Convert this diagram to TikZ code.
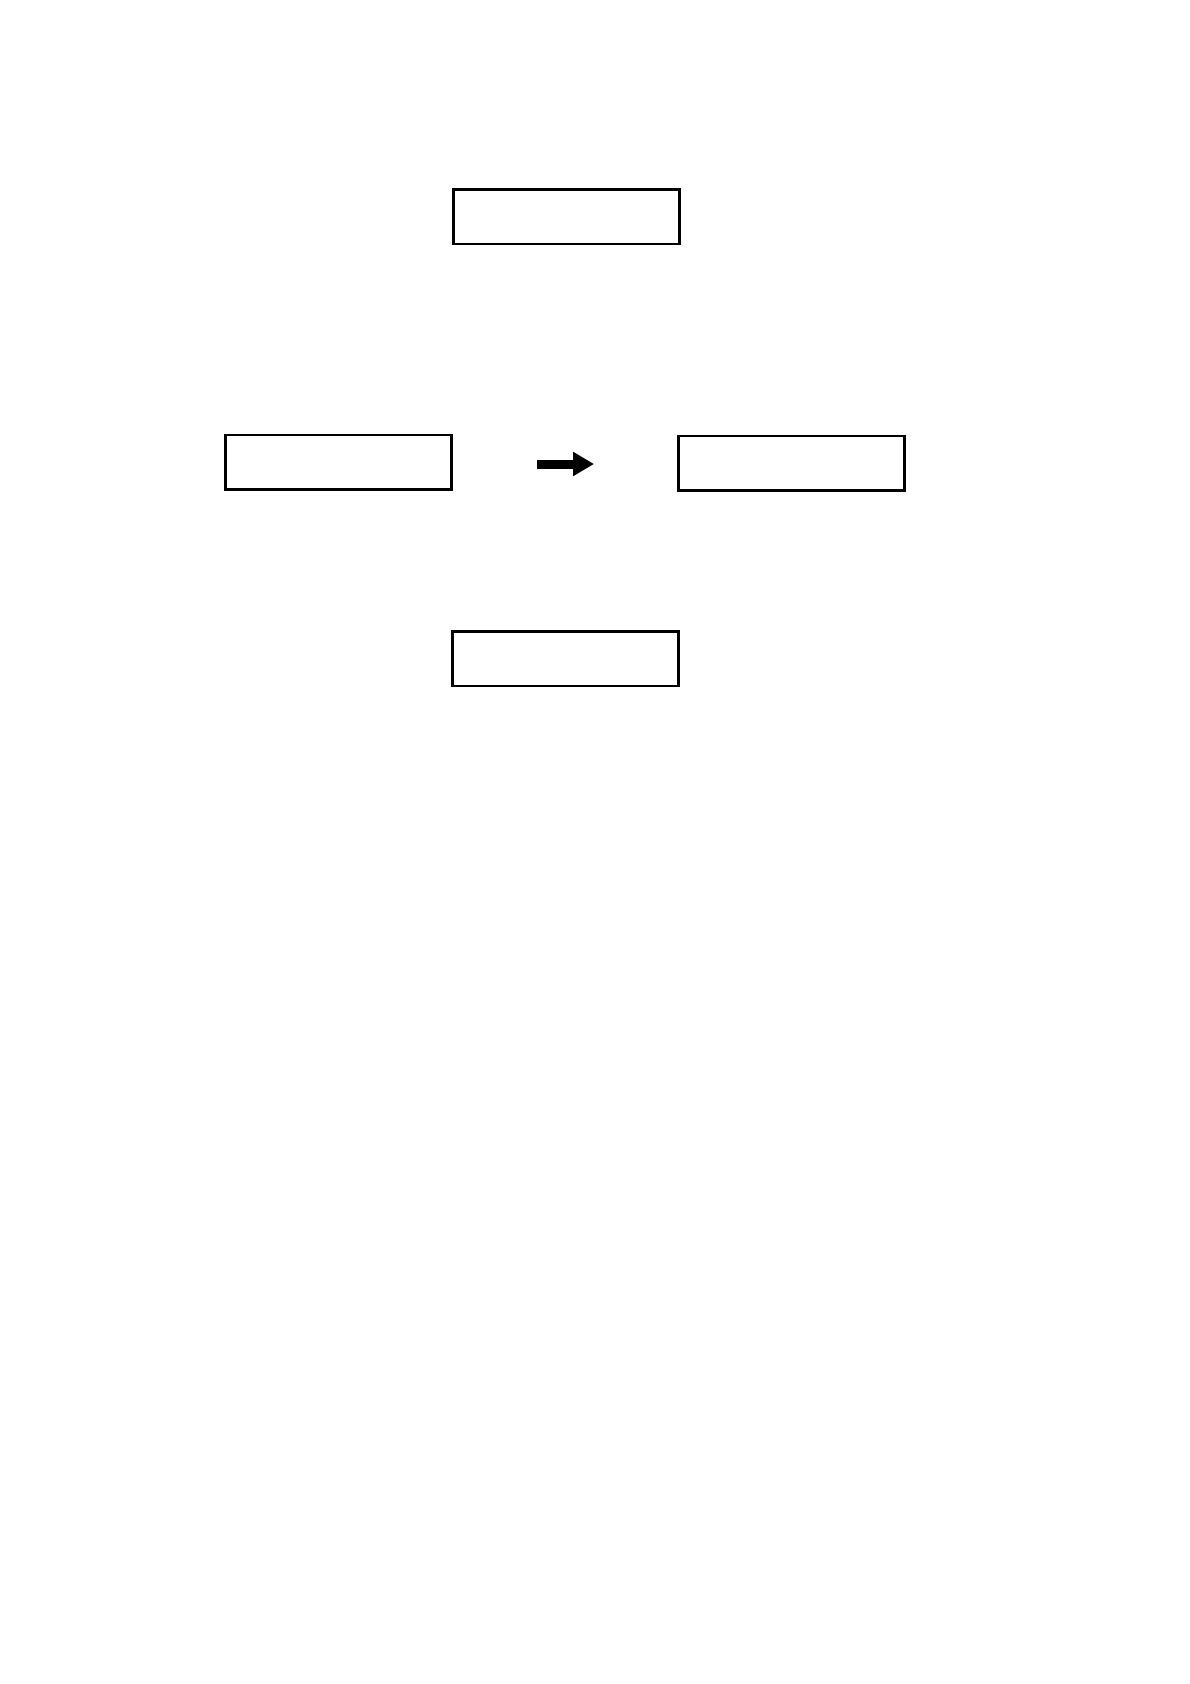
\documentclass[tikz,border=0pt]{standalone}
\usetikzlibrary{arrows.meta}
\tikzset{
  emptybox/.style={draw=black, line width=2.5pt, minimum width=226pt, minimum height=54.5pt, inner sep=0pt, fill=white},
  blockarrow/.style={line width=9pt, -{Triangle[length=21pt,width=23pt]}}
}
\begin{document}
\begin{tikzpicture}[x=1pt,y=-1pt]
\useasboundingbox[fill=white] (0,0) rectangle (1190,1684);
\node[emptybox] (top) at (566.5,216.5) {};
\node[emptybox] (left) at (338.5,462) {};
\node[emptybox] (right) at (791.5,463) {};
\node[emptybox] (bottom) at (565.5,658.5) {};
\coordinate (arrowstart) at (537,464);
\coordinate (arrowend) at (594,464);
\draw[blockarrow] (arrowstart) -- (arrowend);
\end{tikzpicture}
\end{document}
